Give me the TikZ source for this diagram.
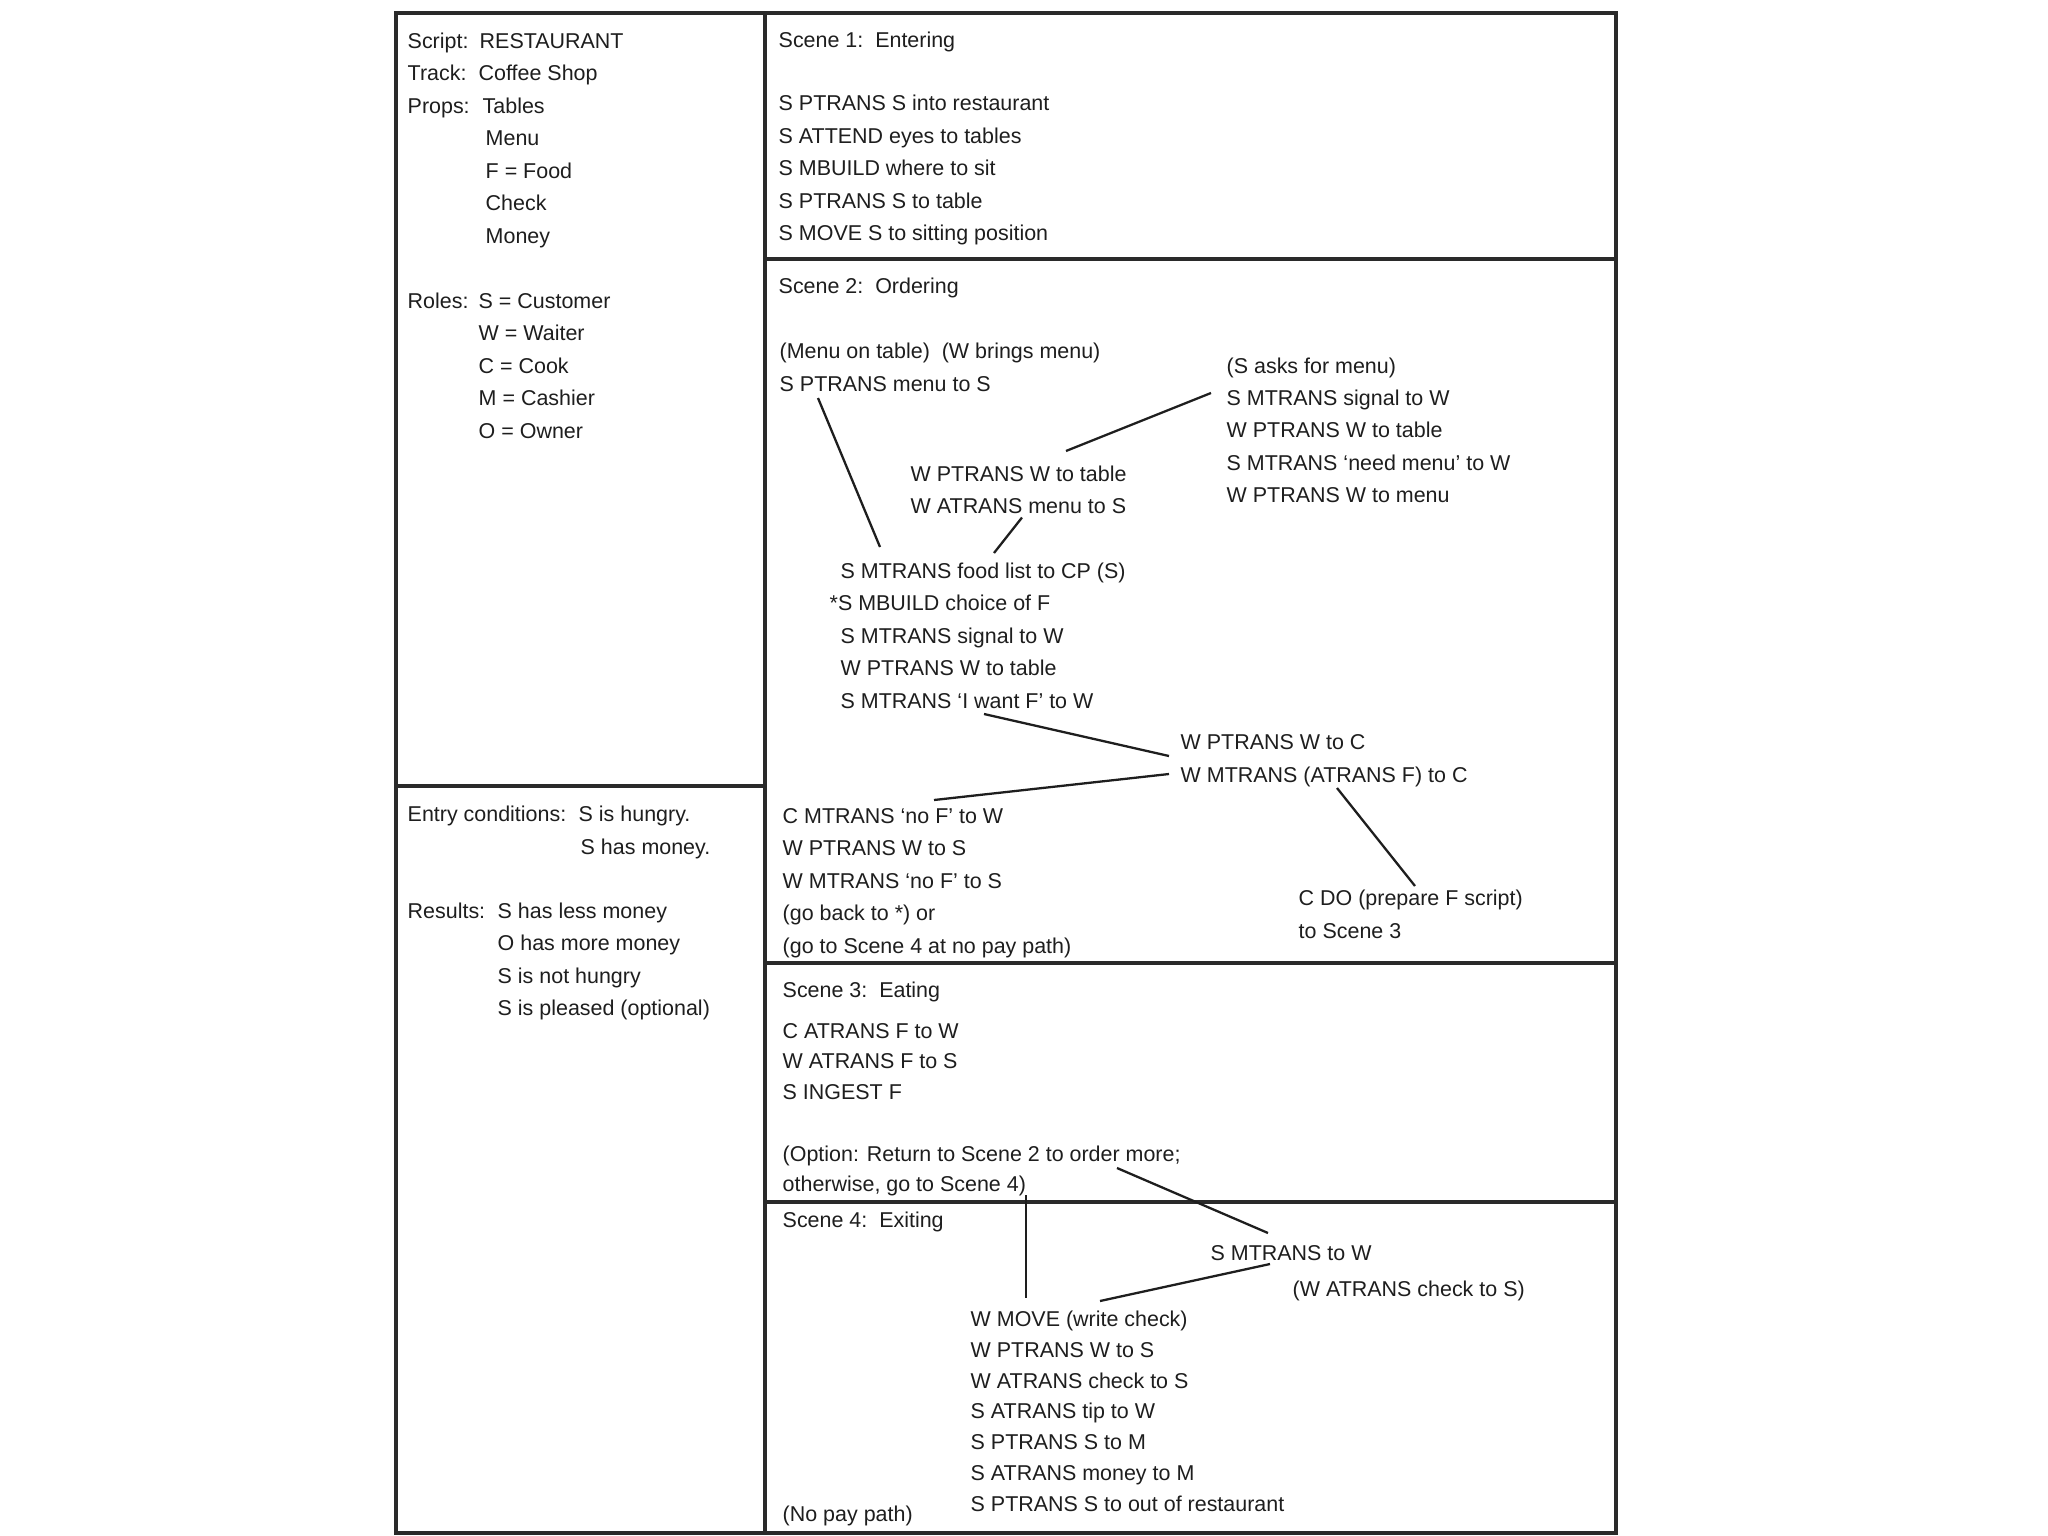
\documentclass[tikz,border=0pt]{standalone}
\usepackage{fontspec}
\setmainfont{Liberation Sans}
\usetikzlibrary{calc}
\definecolor{ink} {HTML}{1E1E1E}
\definecolor{rule}{HTML}{2A2A2A}
\tikzset{
  txt/.style={anchor=base west, inner sep=0pt, text=ink,
    font=\fontsize{6.1}{7.3}\selectfont},
  frame/.style={draw=rule, line width=0.95pt},
  link/.style={draw=ink, line width=0.65pt},
}

\begin{document}
\begin{tikzpicture}[x=0.01cm, y=-0.01cm]
    \useasboundingbox (0,0) rectangle (2048,1536);
    \fill[white] (0,0) rectangle (2048,1536);

    % --- the frame ----------------------------------------------------------
    \draw[frame] (396,13) rectangle (1616,1533);
    \draw[frame] (765,13) -- (765,1533);
    \draw[frame] (396,786) -- (765,786);
    \draw[frame] (765,259) -- (1616,259);
    \draw[frame] (765,963) -- (1616,963);
    \draw[frame] (765,1202) -- (1616,1202);

    % --- script header ------------------------------------------------------
    \node[txt] (lscript) at (407,48)    {Script:};
    \node[txt] (vscript) at (479,48)    {RESTAURANT};
    \node[txt] (ltrack)  at (407,80.5)  {Track:};
    \node[txt] (vtrack)  at (478,80.5)  {Coffee Shop};
    \node[txt] (lprops)  at (407,113)   {Props:};
    \node[txt] (ptables) at (482,113)   {Tables};
    \node[txt] (pmenu)   at (485,145.5) {Menu};
    \node[txt] (pfood)   at (485,178)   {F = Food};
    \node[txt] (pcheck)  at (485,210.5) {Check};
    \node[txt] (pmoney)  at (485,243)   {Money};
    \node[txt] (lroles)  at (407,308)   {Roles:};
    \node[txt] (rcust)   at (478,308)   {S = Customer};
    \node[txt] (rwait)   at (478,340.5) {W = Waiter};
    \node[txt] (rcook)   at (478,373)   {C = Cook};
    \node[txt] (rcash)   at (478,405.5) {M = Cashier};
    \node[txt] (rowner)  at (478,438)   {O = Owner};

    % --- conditions and results ---------------------------------------------
    \node[txt] (lentry)  at (407,821)   {Entry conditions:};
    \node[txt] (ehungry) at (578,821)   {S is hungry.};
    \node[txt] (emoney)  at (580,854)   {S has money.};
    \node[txt] (lresult) at (407,918)   {Results:};
    \node[txt] (rless)   at (497,918)   {S has less money};
    \node[txt] (rmore)   at (497,950.5) {O has more money};
    \node[txt] (rfull)   at (497,983)   {S is not hungry};
    \node[txt] (rplease) at (497,1015.5){S is pleased (optional)};

    % --- scene 1 ------------------------------------------------------------
    \node[txt] (s1head) at (778,47)    {Scene 1:\ \ Entering};
    \node[txt] (s1a)    at (778,110.5) {S PTRANS S into restaurant};
    \node[txt] (s1b)    at (778,143)   {S ATTEND eyes to tables};
    \node[txt] (s1c)    at (778,175.5) {S MBUILD where to sit};
    \node[txt] (s1d)    at (778,208)   {S PTRANS S to table};
    \node[txt] (s1e)    at (778,240.5) {S MOVE S to sitting position};

    % --- scene 2 ------------------------------------------------------------
    \node[txt] (s2head)  at (778,293)   {Scene 2:\ \ Ordering};
    \node[txt] (onmenu)  at (779,358)   {(Menu on table)\ \ (W brings menu)};
    \node[txt] (menu)    at (779,391)   {S PTRANS menu to S};

    \node[txt] (ask)     at (1226,373)  {(S asks for menu)};
    \node[txt] (asig)    at (1226,405)  {S MTRANS signal to W};
    \node[txt] (atable)  at (1226,437.5){W PTRANS W to table};
    \node[txt] (aneed)   at (1226,470)  {S MTRANS `need menu' to W};
    \node[txt] (ago)     at (1226,502.5){W PTRANS W to menu};

    \node[txt] (wtable)  at (910,481)   {W PTRANS W to table};
    \node[txt] (wgive)   at (910,513.5) {W ATRANS menu to S};

    \node[txt] (food)    at (840,578)   {S MTRANS food list to CP (S)};
    \node[txt] (choice)  at (829,610.5) {*S MBUILD choice of F};
    \node[txt] (osig)    at (840,643)   {S MTRANS signal to W};
    \node[txt] (otable)  at (840,675.5) {W PTRANS W to table};
    \node[txt] (iwant)   at (840,708)   {S MTRANS `I want F' to W};

    \node[txt] (wtoc)    at (1180,749.5){W PTRANS W to C};
    \node[txt] (wmc)     at (1180,782)  {W MTRANS (ATRANS F) to C};

    \node[txt] (cnof)    at (782,823)   {C MTRANS `no F' to W};
    \node[txt] (wtos)    at (782,855.5) {W PTRANS W to S};
    \node[txt] (wnof)    at (782,888)   {W MTRANS `no F' to S};
    \node[txt] (back)    at (782,920.5) {(go back to *) or};
    \node[txt] (nopay)   at (782,953)   {(go to Scene 4 at no pay path)};

    \node[txt] (cdo)     at (1298,905.5){C DO (prepare F script)};
    \node[txt] (tos3)    at (1298,938)  {to Scene 3};

    % --- scene 3 ------------------------------------------------------------
    \node[txt] (s3head)  at (782,997.5) {Scene 3:\ \ Eating};
    \node[txt] (s3a)     at (782,1038)  {C ATRANS F to W};
    \node[txt] (s3b)     at (782,1068.5){W ATRANS F to S};
    \node[txt] (s3c)     at (782,1099)  {S INGEST F};
    \node[txt] (option)  at (782,1161)  {(Option: Return to Scene 2 to order more;};
    \node[txt] (other)   at (782,1191)  {otherwise, go to Scene 4)};

    % --- scene 4 ------------------------------------------------------------
    \node[txt] (s4head)  at (782,1227.5){Scene 4:\ \ Exiting};
    \node[txt] (smw)     at (1210,1260.5){S MTRANS to W};
    \node[txt] (wcheck)  at (1292,1296.5){(W ATRANS check to S)};
    \node[txt] (wmove)   at (970,1326)  {W MOVE (write check)};
    \node[txt] (s4b)     at (970,1357)  {W PTRANS W to S};
    \node[txt] (s4c)     at (970,1388)  {W ATRANS check to S};
    \node[txt] (s4d)     at (970,1418.5){S ATRANS tip to W};
    \node[txt] (s4e)     at (970,1449.5){S PTRANS S to M};
    \node[txt] (s4f)     at (970,1480.5){S ATRANS money to M};
    \node[txt] (s4g)     at (970,1511)  {S PTRANS S to out of restaurant};
    \node[txt] (nopath)  at (782,1521)  {(No pay path)};

    % --- links between the steps --------------------------------------------
    \draw[link] ($(menu.base west)+(39,7)$)   -- ($(food.base west)+(40,-31)$);
    \draw[link] ($(asig.base west)+(-15,-12)$) -- ($(wtable.base west)+(156,-30)$);
    \draw[link] ($(wgive.base west)+(112,4)$)  -- ($(food.base west)+(154,-25)$);
    \draw[link] ($(iwant.base west)+(144,6)$)  -- ($(wtoc.base west)+(-11,6.5)$);
    \draw[link] ($(wmc.base west)+(-11,-8)$)   -- ($(cnof.base west)+(152,-23)$);
    \draw[link] ($(wmc.base west)+(157,6)$)    -- ($(cdo.base west)+(117,-19.5)$);
    \draw[link] ($(other.base west)+(244,4)$)  -- ($(wmove.base west)+(56,-28)$);
    \draw[link] ($(option.base west)+(335,7)$) -- ($(smw.base west)+(58,-27.5)$);
    \draw[link] ($(smw.base west)+(60,3.5)$)   -- ($(wmove.base west)+(130,-25)$);
\end{tikzpicture}
\end{document}
